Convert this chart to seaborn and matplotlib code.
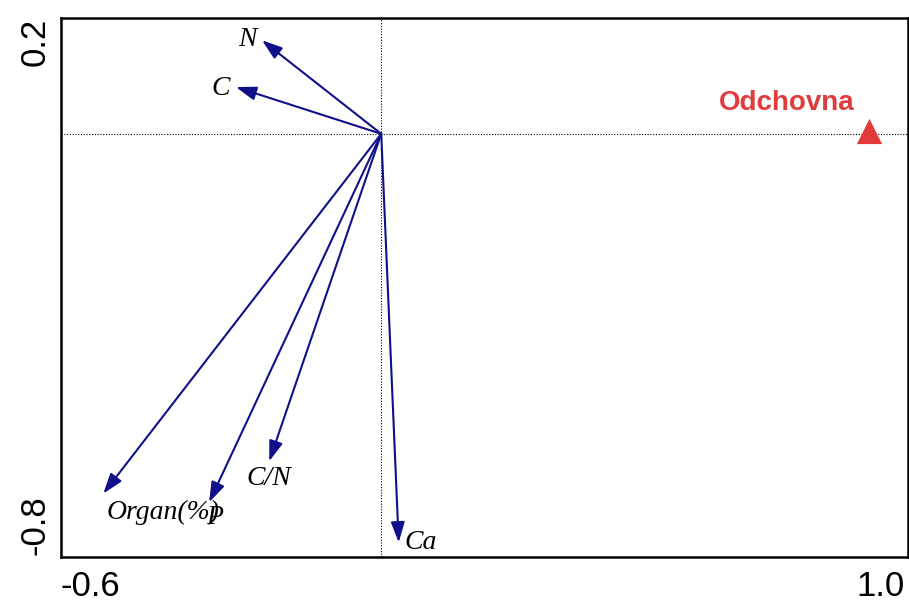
import matplotlib
matplotlib.use("Agg")
import matplotlib.pyplot as plt
import matplotlib.transforms as mtransforms
import seaborn as sns
import pandas as pd

# Environmental variables (biplot arrow tips)
variables = ["N", "C", "Organ(%)", "P", "C/N", "Ca"]
var_x = [-0.232, -0.283, -0.541, -0.335, -0.218, 0.034]
var_y = [0.182, 0.091, -0.700, -0.717, -0.637, -0.795]

# Sample / site scores
sites = ["Odchovna"]
site_x = [0.950]
site_y = [0.005]

# Axis ticks
x_ticks = [-0.6, -0.4, -0.2, 0.0, 0.2, 0.4, 0.6, 0.8, 1.0]
x_tick_labels = ["-0.6", "", "", "", "", "", "", "", "1.0"]
y_ticks = [-0.8, -0.6, -0.4, -0.2, 0.0, 0.2]
y_tick_labels = ["-0.8", "", "", "", "", "0.2"]

ARROW = "#10108A"
SITE = "#E23B3B"

sns.set_style("white")
plt.rcParams["font.family"] = ["Liberation Sans", "DejaVu Sans"]

fig = plt.figure(figsize=(9.09, 6.05), dpi=100)
ax = fig.add_axes([0.0671, 0.0793, 0.9318, 0.8909])

ax.set_xlim(-0.6233, 1.0253)
ax.set_ylim(-0.8233, 0.2253)

# origin cross-hair
ax.axhline(0, color="black", lw=0.8, ls=(0, (1, 1.5)), zorder=1)
ax.axvline(0, color="black", lw=0.8, ls=(0, (1, 1.5)), zorder=1)

# label placement (pixel offsets from the arrow tip) and alignment
label_style = {
    "N": ((-15, 1), "center"),
    "C": ((-15, -1), "center"),
    "Organ(%)": ((3, -19), "left"),
    "P": ((6, -15), "center"),
    "C/N": ((0, -17), "center"),
    "Ca": ((6, 0), "left"),
}

for name, x, y in zip(variables, var_x, var_y):
    ax.annotate("", xy=(x, y), xytext=(0, 0),
                arrowprops=dict(arrowstyle="-|>,head_length=0.65,head_width=0.22",
                                mutation_scale=19, color=ARROW, lw=1.5,
                                shrinkA=0, shrinkB=0),
                zorder=3)
    off, ha = label_style[name]
    ax.annotate(name, xy=(x, y), xytext=off, textcoords="offset pixels",
                ha=ha, va="center", fontsize=20, fontstyle="italic",
                family=["Liberation Serif", "DejaVu Serif"], color="black",
                zorder=4)

site_df = pd.DataFrame({"x": site_x, "y": site_y, "name": sites})
sns.scatterplot(data=site_df, x="x", y="y", marker="^", s=330, color=SITE,
                edgecolor=SITE, linewidth=0, ax=ax, zorder=5, legend=False)
for name, x, y in zip(sites, site_x, site_y):
    ax.annotate(name, xy=(x, y), xytext=(-83, 28), textcoords="offset pixels",
                ha="center", va="center", fontsize=20, fontweight="bold",
                color=SITE, zorder=5)

ax.set_xlabel("")
ax.set_ylabel("")

ax.set_xticks(x_ticks, labels=x_tick_labels)
ax.set_yticks(y_ticks, labels=y_tick_labels)
ax.tick_params(axis="both", direction="inout", length=8, width=1.4,
               color="black", labelsize=25, labelcolor="black")
ax.tick_params(axis="x", pad=5)
ax.tick_params(axis="y", pad=3)

for sp in ax.spines.values():
    sp.set_visible(True)
    sp.set_color("black")
    sp.set_linewidth(1.8)

# end labels sit flush with the frame edges
xl = ax.get_xticklabels()
xl[0].set_ha("left")
xl[0].set_transform(xl[0].get_transform() +
                    mtransforms.ScaledTranslation(-0.12, 0, fig.dpi_scale_trans))
xl[-1].set_ha("right")
xl[-1].set_transform(xl[-1].get_transform() +
                     mtransforms.ScaledTranslation(0.10, 0, fig.dpi_scale_trans))

yl = ax.get_yticklabels()
for lab in yl:
    lab.set_rotation(90)
yl[0].set_va("bottom")
yl[0].set_transform(yl[0].get_transform() +
                    mtransforms.ScaledTranslation(0, -0.10, fig.dpi_scale_trans))
yl[-1].set_va("top")
yl[-1].set_transform(yl[-1].get_transform() +
                     mtransforms.ScaledTranslation(0, 0.13, fig.dpi_scale_trans))

fig.savefig("out.png", dpi=100, facecolor="white")
